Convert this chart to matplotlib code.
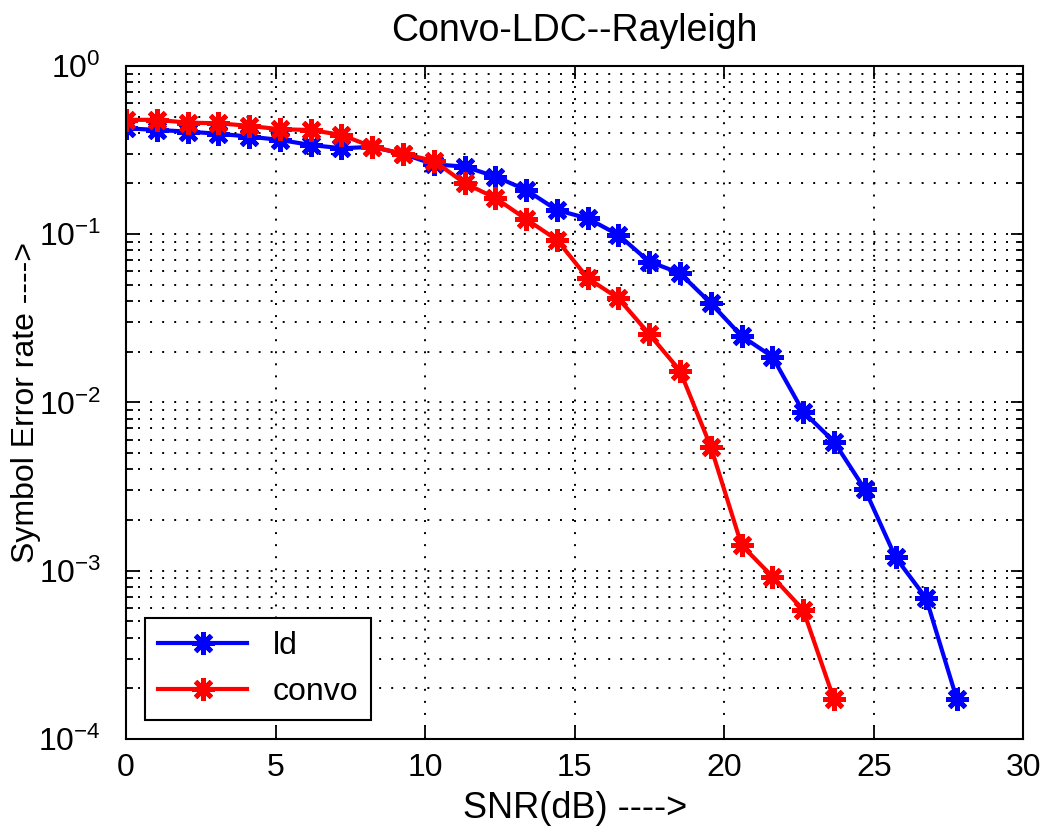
import matplotlib
matplotlib.use("Agg")
import matplotlib.pyplot as plt
from matplotlib.ticker import LogLocator, NullFormatter, MultipleLocator

plt.rcParams['font.family'] = ['Liberation Sans', 'DejaVu Sans']

snr_ld = [0, 1.03, 2.06, 3.09, 4.12, 5.15, 6.17, 7.2, 8.23, 9.26, 10.29, 11.32, 12.35, 13.38,
          14.41, 15.44, 16.46, 17.49, 18.52, 19.55, 20.58, 21.61, 22.64, 23.67, 24.7, 25.73,
          26.75, 27.78]
ser_ld = [0.426, 0.416, 0.407, 0.395, 0.38, 0.363, 0.339, 0.324, 0.33, 0.30, 0.26, 0.252,
          0.220, 0.183, 0.139, 0.124, 0.099, 0.0687, 0.0586, 0.0389, 0.0248, 0.0187, 0.0088,
          0.00585, 0.00305, 0.0012, 0.000686, 0.000172]

snr_convo = snr_ld[:24]
ser_convo = [0.478, 0.478, 0.46, 0.456, 0.44, 0.42, 0.416, 0.389, 0.331, 0.30, 0.273, 0.201,
             0.164, 0.1227, 0.0924, 0.0547, 0.0416, 0.0255, 0.01545, 0.00546, 0.00142,
             0.000922, 0.000585, 0.000172]

fig = plt.figure(figsize=(10.41, 8.34), dpi=100)
ax = fig.add_axes([0.121, 0.114, 0.862, 0.807])

star = (8, 2, 0)
ax.semilogy(snr_ld, ser_ld, color='blue', lw=3, marker=star, ms=16, mew=3.5, label='ld')
ax.semilogy(snr_convo, ser_convo, color='red', lw=3, marker=star, ms=16, mew=3.5, label='convo')

ax.set_xlim(0, 30)
ax.set_ylim(1e-4, 1)
ax.xaxis.set_major_locator(MultipleLocator(5))
ax.yaxis.set_major_locator(LogLocator(base=10, numticks=10))
ax.yaxis.set_minor_locator(LogLocator(base=10, subs=range(2, 10), numticks=20))
ax.yaxis.set_minor_formatter(NullFormatter())

ax.grid(True, which='major', color='black', linestyle=(0, (1, 5.2)), lw=1.4)
ax.grid(True, which='minor', axis='y', color='black', linestyle=(0, (1, 5.2)), lw=1.4)

ax.tick_params(which='both', direction='in', top=True, right=True, labelsize=23, width=1.3)
ax.tick_params(which='major', length=9)
ax.tick_params(axis='x', which='major', pad=10)
ax.tick_params(axis='y', which='major', pad=18)
ax.tick_params(which='minor', length=5)
for s in ax.spines.values():
    s.set_linewidth(1.5)

ax.set_title('Convo-LDC--Rayleigh', fontsize=27, pad=18)
ax.set_xlabel('SNR(dB) ---->', fontsize=26, labelpad=6)
ax.set_ylabel('Symbol Error rate ---->', fontsize=23)
ax.yaxis.set_label_coords(-0.095, 0.5)

leg = ax.legend(loc='lower left', fontsize=23, fancybox=False, framealpha=1,
                edgecolor='black', handlelength=2.8, borderaxespad=0.6)
leg.get_frame().set_linewidth(1.5)

fig.savefig('out.png', dpi=100)
